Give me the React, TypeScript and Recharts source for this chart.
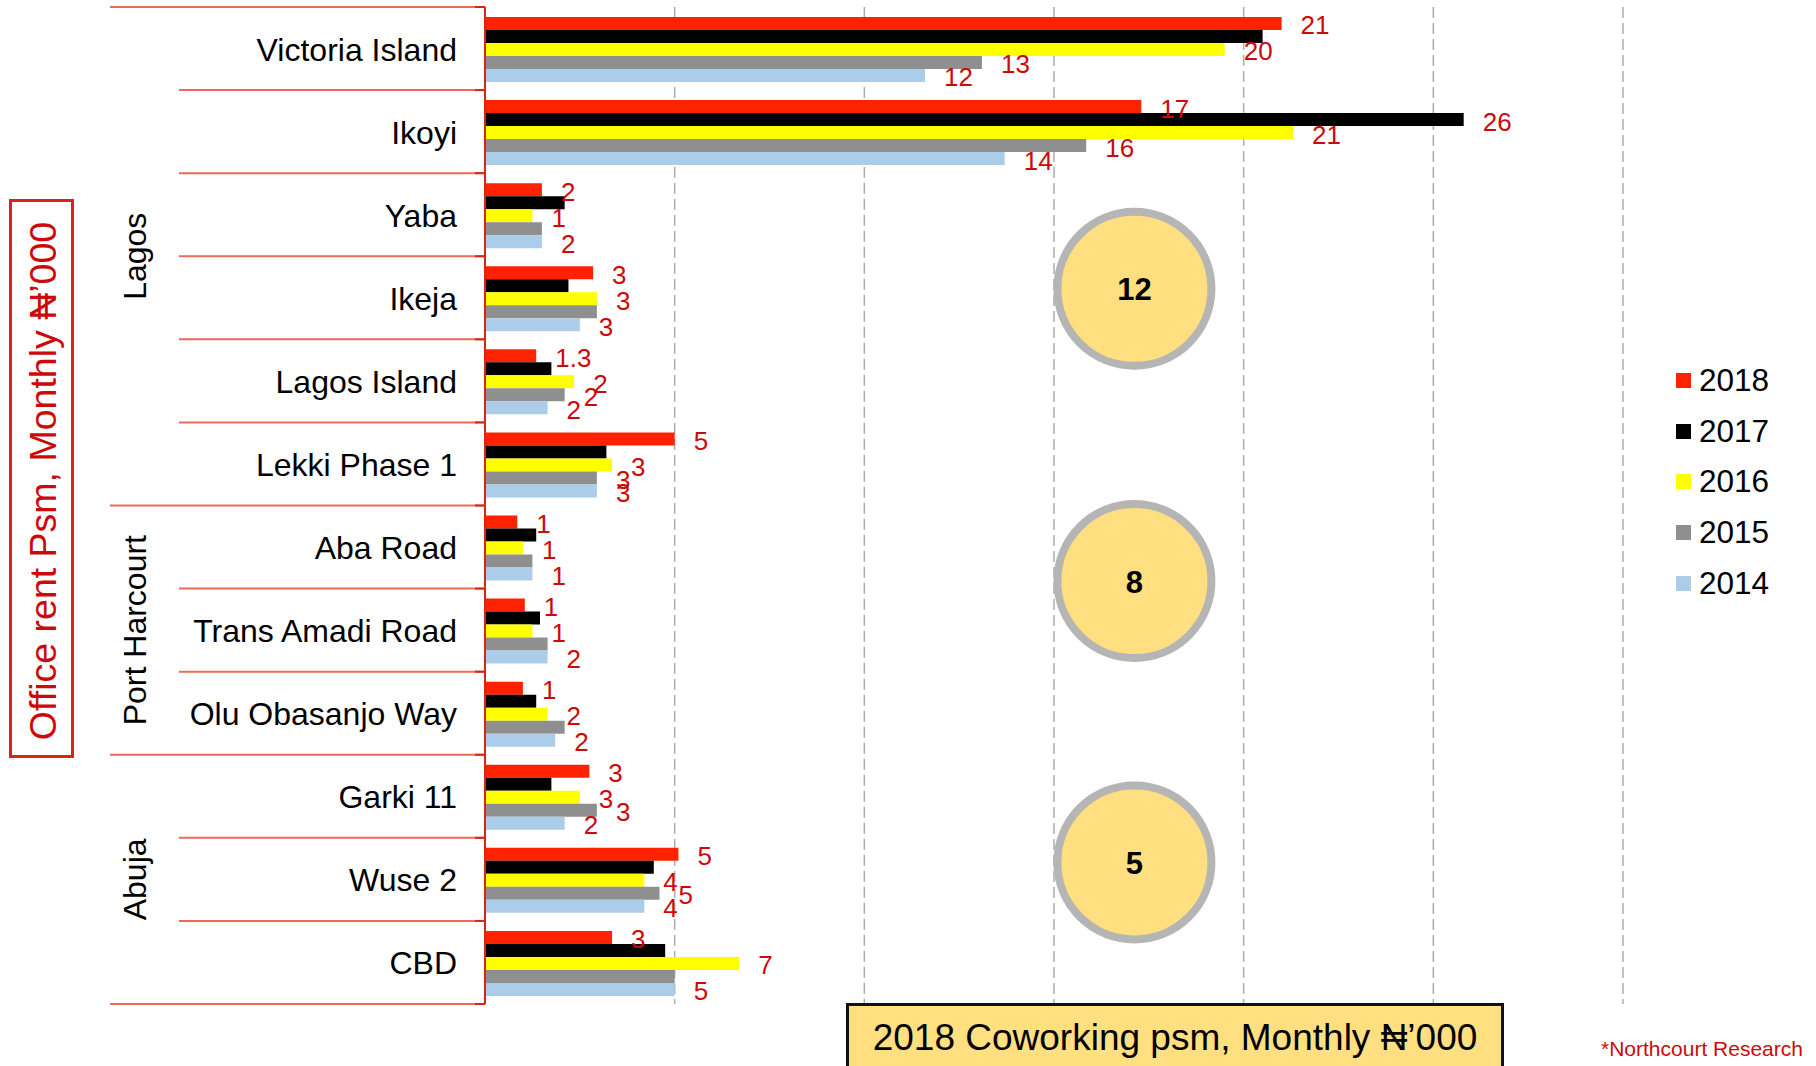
import React from 'react';
import {
  Bar,
  BarChart,
  CartesianGrid,
  LabelList,
  ReferenceDot,
  XAxis,
  YAxis,
} from 'recharts';

const locations = [
  'Victoria Island',
  'Ikoyi',
  'Yaba',
  'Ikeja',
  'Lagos Island',
  'Lekki Phase 1',
  'Aba Road',
  'Trans Amadi Road',
  'Olu Obasanjo Way',
  'Garki 11',
  'Wuse 2',
  'CBD',
];

const cityNames = ['Lagos', 'Port Harcourt', 'Abuja'];
const citySizes = [6, 3, 3];

const rent2018 = [21.0, 17.3, 1.5, 2.85, 1.35, 5.0, 0.85, 1.05, 1.0, 2.75, 5.1, 3.35];
const rent2017 = [20.5, 25.8, 2.1, 2.2, 1.75, 3.2, 1.35, 1.45, 1.35, 1.75, 4.45, 4.75];
const rent2016 = [19.5, 21.3, 1.25, 2.95, 2.35, 3.35, 1.0, 1.25, 1.65, 2.5, 4.2, 6.7];
const rent2015 = [13.1, 15.85, 1.5, 2.95, 2.1, 2.95, 1.25, 1.65, 2.1, 2.95, 4.6, 5.0];
const rent2014 = [11.6, 13.7, 1.5, 2.5, 1.65, 2.95, 1.25, 1.65, 1.85, 2.1, 4.2, 5.0];

// printed labels (not always the rounded bar value in the source)
const label2018 = ['21', '17', '2', '3', '1.3', '5', '1', '1', '1', '3', '5', '3'];
const label2017 = ['', '26', '', '', '', '', '', '', '', '', '', ''];
const label2016 = ['20', '21', '1', '3', '2', '3', '1', '1', '2', '3', '4', '7'];
const label2015 = ['13', '16', '', '', '2', '3', '', '', '', '3', '5', ''];
const label2014 = ['12', '14', '2', '3', '2', '3', '1', '2', '2', '2', '4', '5'];

const years = ['2018', '2017', '2016', '2015', '2014'];
const yearColors = ['#FF2200', '#000000', '#FFFF00', '#8F8F8F', '#ABCDEA'];

const xTicks = [0, 5, 10, 15, 20, 25, 30];

// 2018 coworking bubbles
const coworkValues = [12, 8, 5];
const coworkRows = ['Ikeja', 'Aba Road', 'Wuse 2'];
const coworkShift = [-9, 34, -17];
const coworkX = 17.12;

const W = 1816;
const H = 1066;
const M = { top: 7, right: 193, bottom: 62, left: 0 };
const AXIS_W = 485;
const BAND = (H - M.top - M.bottom) / locations.length;
const FONT = '"Liberation Sans", Arial, sans-serif';
const LINE_RED = '#EC6A5C';
const DARK_RED = '#D92614';
const TEXT_RED = '#CC0A0A';

const groupStarts = citySizes.map((_, g) =>
  citySizes.slice(0, g).reduce((a, b) => a + b, 0)
);

const data = locations.map((name, i) => ({
  name,
  y2018: rent2018[i],
  y2017: rent2017[i],
  y2016: rent2016[i],
  y2015: rent2015[i],
  y2014: rent2014[i],
  l2018: label2018[i],
  l2017: label2017[i],
  l2016: label2016[i],
  l2015: label2015[i],
  l2014: label2014[i],
}));

const LocationTick = (props: any) => {
  const { y, payload } = props;
  const i = props.index ?? payload.index;
  const top = y - BAND / 2;
  const g = groupStarts.indexOf(i);
  const isLast = i === locations.length - 1;
  return (
    <g>
      <line x1={g >= 0 ? 110 : 179} x2={AXIS_W} y1={top} y2={top} stroke={LINE_RED} strokeWidth={2} />
      <line x1={AXIS_W - 10} x2={AXIS_W} y1={top} y2={top} stroke={DARK_RED} strokeWidth={2} />
      {isLast && (
        <>
          <line x1={110} x2={AXIS_W} y1={y + BAND / 2} y2={y + BAND / 2} stroke={LINE_RED} strokeWidth={2} />
          <line x1={AXIS_W - 10} x2={AXIS_W} y1={y + BAND / 2} y2={y + BAND / 2} stroke={DARK_RED} strokeWidth={2} />
        </>
      )}
      <text
        x={457}
        y={y + 1}
        textAnchor="end"
        dominantBaseline="central"
        fontSize={32}
        fontFamily={FONT}
        fill="#000"
      >
        {payload.value}
      </text>
      {g >= 0 && (
        <text
          x={146}
          y={top + (citySizes[g] * BAND) / 2}
          transform={`rotate(-90 146 ${top + (citySizes[g] * BAND) / 2})`}
          textAnchor="middle"
          fontSize={32}
          fontFamily={FONT}
          fill="#000"
        >
          {cityNames[g]}
        </text>
      )}
    </g>
  );
};

const ValueLabel = (props: any) => {
  const { x, y, width, height, value } = props;
  if (!value) return null;
  return (
    <text
      x={x + width + 19}
      y={y + height / 2 + 2}
      dominantBaseline="central"
      fontSize={26}
      fontFamily={FONT}
      fill={TEXT_RED}
    >
      {value}
    </text>
  );
};

const Bubble = (value: number, shift: number) => (props: any) => {
  const { cx, cy } = props;
  return (
    <g>
      <circle cx={cx} cy={cy + shift} r={77} fill="#FFDF7F" stroke="#B5B5B5" strokeWidth={8} />
      <text
        x={cx}
        y={cy + shift + 1}
        textAnchor="middle"
        dominantBaseline="central"
        fontSize={31}
        fontWeight="bold"
        fontFamily={FONT}
        fill="#000"
      >
        {value}
      </text>
    </g>
  );
};

export default function App() {
  return (
    <div
      style={{
        position: 'absolute',
        left: 0,
        top: 0,
        width: W,
        height: H,
        background: '#fff',
        overflow: 'hidden',
        fontFamily: FONT,
      }}
    >
      <BarChart
        width={W}
        height={H}
        data={data}
        layout="vertical"
        margin={M}
        barCategoryGap="12%"
        barGap={0}
      >
        <CartesianGrid
          horizontal={false}
          vertical
          stroke="#ADADAD"
          strokeWidth={1.5}
          strokeDasharray="11 5"
        />
        <XAxis type="number" domain={[0, 30]} ticks={xTicks} hide />
        <YAxis
          type="category"
          dataKey="name"
          width={AXIS_W}
          interval={0}
          tickLine={false}
          axisLine={{ stroke: DARK_RED, strokeWidth: 2 }}
          tick={<LocationTick />}
        />
        {years.map((yr, i) => (
          <Bar
            key={yr}
            dataKey={`y${yr}`}
            name={yr}
            fill={yearColors[i]}
            isAnimationActive={false}
          >
            <LabelList dataKey={`l${yr}`} content={<ValueLabel />} />
          </Bar>
        ))}
        {coworkValues.map((v, i) => (
          <ReferenceDot
            key={coworkRows[i]}
            x={coworkX}
            y={coworkRows[i]}
            r={77}
            shape={Bubble(v, coworkShift[i])}
          />
        ))}
      </BarChart>

      <div style={{ position: 'absolute', left: 1676, top: 355 }}>
        {years.map((yr, i) => (
          <div key={yr} style={{ display: 'flex', alignItems: 'center', height: 50.8 }}>
            <span
              style={{
                display: 'inline-block',
                width: 15,
                height: 15,
                background: yearColors[i],
                marginRight: 8,
              }}
            />
            <span style={{ fontSize: 31.5, color: '#000' }}>{yr}</span>
          </div>
        ))}
      </div>

      <div
        style={{
          position: 'absolute',
          left: 9,
          top: 199,
          width: 59,
          height: 553,
          border: `3px solid ${DARK_RED}`,
        }}
      />
      <svg
        width={90}
        height={H}
        style={{ position: 'absolute', left: 0, top: 0, pointerEvents: 'none' }}
      >
        <text
          x={56}
          y={481}
          transform="rotate(-90 56 481)"
          textAnchor="middle"
          fontSize={37.5}
          fontFamily={FONT}
          fill={TEXT_RED}
        >
          Office rent Psm, Monthly ₦’000
        </text>
      </svg>

      <div
        style={{
          position: 'absolute',
          left: 846,
          top: 1003,
          width: 652,
          height: 80,
          background: '#FFDF7F',
          border: '3px solid #111',
          boxSizing: 'content-box',
          fontSize: 37,
          color: '#000',
          textAlign: 'center',
          paddingTop: 11,
          lineHeight: '42px',
        }}
      >
        2018 Coworking psm, Monthly ₦’000
      </div>

      <div
        style={{
          position: 'absolute',
          left: 1601,
          top: 1036,
          fontSize: 21,
          color: TEXT_RED,
          lineHeight: '25px',
        }}
      >
        *Northcourt Research
      </div>
    </div>
  );
}
